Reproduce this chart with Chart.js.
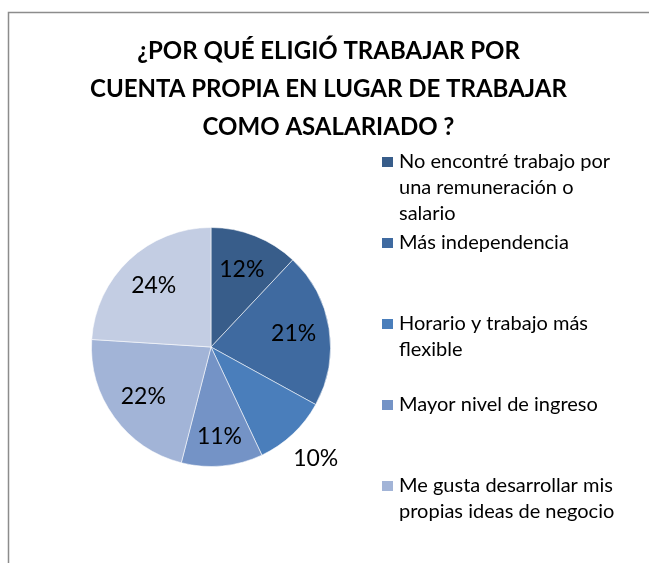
<!DOCTYPE html>
<html>
<head>
<meta charset="utf-8">
<script src="https://cdn.jsdelivr.net/npm/chart.js@4.4.1/dist/chart.umd.min.js"></script>
<style>
html,body{margin:0;padding:0;background:#fff;}
#wrap{width:649px;height:563px;position:relative;}
</style>
</head>
<body>
<div id="wrap"><canvas id="c" width="649" height="563"></canvas></div>
<script>
const titleLines = ["¿POR QUÉ ELIGIÓ TRABAJAR POR", "CUENTA PROPIA EN LUGAR DE TRABAJAR", "COMO ASALARIADO ?"];
const categories = [
  ["No encontré trabajo por", "una remuneración o", "salario"],
  ["Más independencia"],
  ["Horario y trabajo más", "flexible"],
  ["Mayor nivel de ingreso"],
  ["Me gusta desarrollar mis", "propias ideas de negocio"],
  ["Otro"]
];
const values = [12, 21, 10, 11, 22, 24];
const colors = ["#385D8A", "#3F6AA0", "#4A7EBB", "#7493C6", "#A2B4D7", "#C3CDE3"];

const FONT = "Lato, 'Open Sans', sans-serif";
// label radius as fraction of pie radius (10% slice placed outside, like Excel best fit)
const labelRadius = [0.7, 0.7, 1.28, 0.75, 0.7, 0.7];

const framePlugin = {
  id: 'frame',
  beforeDraw(chart) {
    const ctx = chart.ctx;
    ctx.save();
    ctx.fillStyle = '#fff';
    ctx.fillRect(0, 0, chart.width, chart.height);
    ctx.strokeStyle = '#8c8c8c';
    ctx.lineWidth = 1.5;
    ctx.beginPath();
    ctx.moveTo(8.5, chart.height + 2);
    ctx.lineTo(8.5, 12.5);
    ctx.lineTo(chart.width + 2, 12.5);
    ctx.stroke();
    // title
    ctx.fillStyle = '#000';
    ctx.font = "bold 24px " + FONT;
    ctx.textAlign = 'center';
    ctx.textBaseline = 'middle';
    titleLines.forEach((t, i) => ctx.fillText(t, 328.5, 51 + i * 38));
    ctx.restore();
  }
};

const labelPlugin = {
  id: 'pieLabels',
  afterDatasetsDraw(chart) {
    const ctx = chart.ctx;
    const meta = chart.getDatasetMeta(0);
    const total = values.reduce((a, b) => a + b, 0);
    ctx.save();
    ctx.font = "23px " + FONT;
    ctx.fillStyle = '#000';
    ctx.textAlign = 'center';
    ctx.textBaseline = 'middle';
    meta.data.forEach((arc, i) => {
      const p = arc.getProps(['x', 'y', 'startAngle', 'endAngle', 'outerRadius'], true);
      const mid = (p.startAngle + p.endAngle) / 2;
      const r = p.outerRadius * labelRadius[i];
      const x = p.x + Math.cos(mid) * r;
      const y = p.y + Math.sin(mid) * r;
      ctx.fillText(Math.round(values[i] / total * 100) + '%', x, y);
    });
    ctx.restore();
  }
};

const legendPlugin = {
  id: 'sideLegend',
  afterDraw(chart) {
    const ctx = chart.ctx;
    ctx.save();
    ctx.font = "20px " + FONT;
    ctx.textBaseline = 'middle';
    ctx.textAlign = 'left';
    const x0 = 382, tx = 399, y0 = 162, step = 81, lh = 26;
    categories.forEach((lines, i) => {
      const y = y0 + i * step;
      if (y + 10 > chart.height - 10) return; // clipped by the legend box, as in the original
      ctx.fillStyle = colors[i];
      ctx.fillRect(x0, y - 5, 11, 10);
      ctx.fillStyle = '#000';
      lines.forEach((ln, j) => ctx.fillText(ln, tx, y + j * lh));
    });
    ctx.restore();
  }
};

new Chart(document.getElementById('c'), {
  type: 'pie',
  data: {
    labels: categories.map(l => l.join(' ')),
    datasets: [{
      data: values,
      backgroundColor: colors,
      borderColor: 'rgba(255,255,255,0.55)',
      borderWidth: 1
    }]
  },
  options: {
    responsive: false,
    animation: false,
    layout: { padding: { left: 91, right: 318, top: 227, bottom: 96 } },
    plugins: {
      legend: { display: false },
      tooltip: { enabled: false },
      title: { display: false }
    }
  },
  plugins: [framePlugin, labelPlugin, legendPlugin]
});
</script>
</body>
</html>
